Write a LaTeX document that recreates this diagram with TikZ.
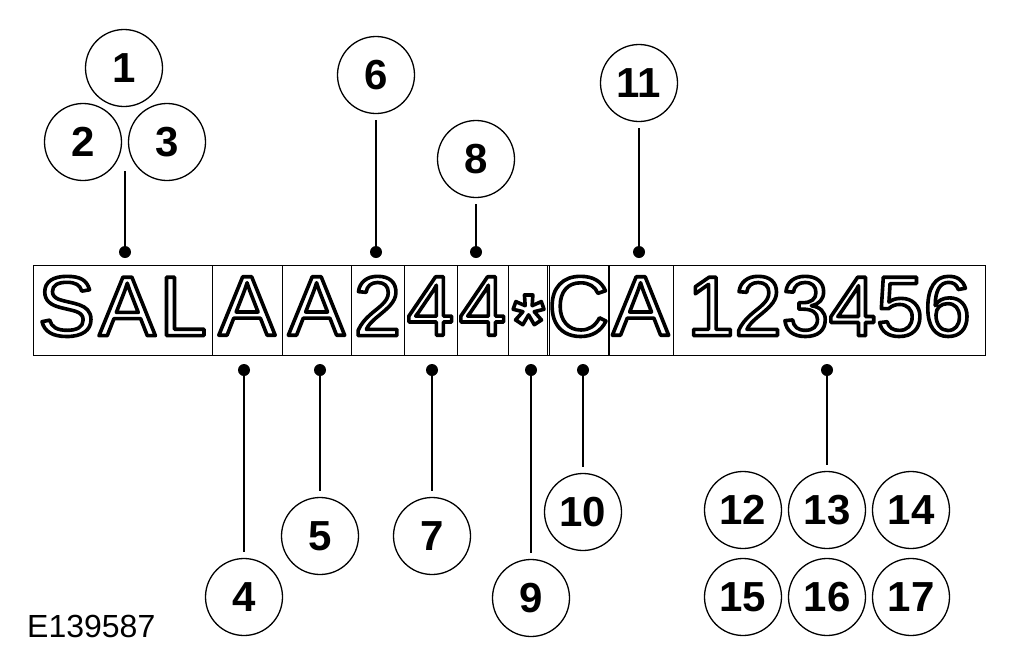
\documentclass[tikz,border=0pt]{standalone}
\usepackage{fontspec}
\setmainfont{Liberation Sans}
\newcommand{\outltext}[1]{\special{pdf:literal direct q 1 Tr 3.6 w 0 G 1 j}#1\special{pdf:literal direct Q}}
\begin{document}
\begin{tikzpicture}[x=1pt,y=-1pt,
  cell/.style={draw,line width=1pt,inner sep=0pt,minimum height=90pt,text depth=8pt,font=\fontsize{85}{85}\selectfont},
  callout/.style={draw,circle,line width=1.3pt,minimum size=77pt,inner sep=0pt,font=\fontsize{42}{42}\selectfont\bfseries},
  dotnode/.style={circle,fill=black,minimum size=12pt,inner sep=0pt},
  conn/.style={line width=1.5pt}]
\useasboundingbox (0,0) rectangle (1021,665);
% boxes
\node[cell,minimum width=179pt] (b1) at (122.5,310) {\outltext{S\kern4pt A\kern4pt L}};
\node[cell,minimum width=70pt] (b2) at (247,310) {\outltext{A}};
\node[cell,minimum width=69pt] (b3) at (316.5,310) {\outltext{A}};
\node[cell,minimum width=53pt] (b4) at (377.5,310) {\outltext{2}};
\node[cell,minimum width=53pt] (b5) at (430.5,310) {\outltext{4}};
\node[cell,minimum width=51pt] (b6) at (482.5,310) {\outltext{4}};
\node[cell,minimum width=41pt] (b7) at (528.5,310) {\raisebox{-44pt}[0pt][0pt]{\makebox[0pt]{\fontsize{80}{80}\selectfont\bfseries\outltext{*}}}};
\node[cell,minimum width=59pt] (b8) at (578.5,310) {\outltext{C}};
\node[cell,minimum width=65pt] (b9) at (640.5,310) {\outltext{A}};
\node[cell,minimum width=312pt] (b10) at (829,310) {\outltext{123456}};
% callouts top
\node[callout] (c1) at (124,68) {1};
\node[callout] (c2) at (83,142) {2};
\node[callout] (c3) at (167,142) {3};
\node[callout] (c6) at (376,75) {6};
\node[callout] (c8) at (476,159) {8};
\node[callout] (c11) at (639,83) {11};
% callouts bottom
\node[callout] (c4) at (244,597) {4};
\node[callout] (c5) at (320,536) {5};
\node[callout] (c7) at (432,536) {7};
\node[callout] (c9) at (531,598) {9};
\node[callout] (c10) at (583,512) {10};
\node[callout] (c12) at (743,510) {12};
\node[callout] (c13) at (827,510) {13};
\node[callout] (c14) at (911,510) {14};
\node[callout] (c15) at (743,597) {15};
\node[callout] (c16) at (827,597) {16};
\node[callout] (c17) at (911,597) {17};
% dots
\node[dotnode] (d1) at (125,252) {};
\node[dotnode] (d6) at (376,252) {};
\node[dotnode] (d8) at (476,252) {};
\node[dotnode] (d11) at (639,252) {};
\node[dotnode] (d4) at (244,370) {};
\node[dotnode] (d5) at (320,370) {};
\node[dotnode] (d7) at (432,370) {};
\node[dotnode] (d9) at (531,370) {};
\node[dotnode] (d10) at (583,370) {};
\node[dotnode] (d13) at (827,370) {};
\coordinate (s1) at (125,171);
% connectors
\draw[conn] (s1) -- (d1);
\draw[conn] ([yshift=-6pt]c6.south) -- (d6);
\draw[conn] ([yshift=-6pt]c8.south) -- (d8);
\draw[conn] ([yshift=-6pt]c11.south) -- (d11);
\draw[conn] (d4) -- ([yshift=6pt]c4.north);
\draw[conn] (d5) -- ([yshift=6pt]c5.north);
\draw[conn] (d7) -- ([yshift=6pt]c7.north);
\draw[conn] (d9) -- ([yshift=6pt]c9.north);
\draw[conn] (d10) -- ([yshift=6pt]c10.north);
\draw[conn] (d13) -- ([yshift=6pt]c13.north);
% figure id
\node[anchor=base west,inner sep=0pt,font=\fontsize{32}{32}\selectfont] (fig) at (27,637) {E139587};
\end{tikzpicture}
\end{document}
